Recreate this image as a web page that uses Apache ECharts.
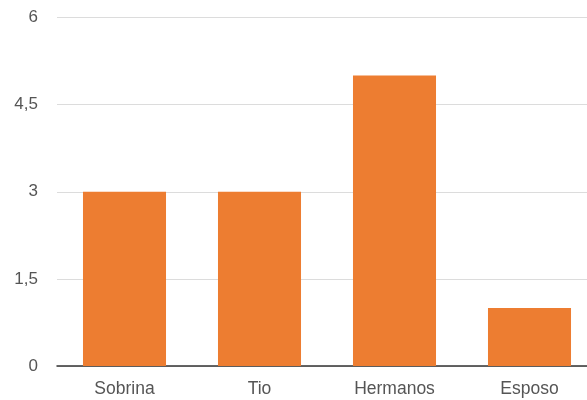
<!DOCTYPE html>
<html><head><meta charset="utf-8">
<script src="https://cdn.jsdelivr.net/npm/echarts@6/dist/echarts.min.js"></script>
<style>html,body{margin:0;padding:0;background:#fff;overflow:hidden;width:587px;height:400px}#c{width:597px;height:400px}</style>
</head><body><div id="c"></div>
<script>
const categories = ["Sobrina", "Tio", "Hermanos", "Esposo"];
const values = [3, 3, 5, 1];
const yTicks = [0, 1.5, 3, 4.5, 6];

const chart = echarts.init(document.getElementById('c'), null, {renderer: 'canvas'});
chart.setOption({
  animation: false,
  grid: {left: 57, top: 17.5, right: 0, bottom: 34, containLabel: false},
  xAxis: {
    type: 'category', data: categories,
    axisLine: {lineStyle: {color: '#333', width: 1.5}},
    axisTick: {show: false},
    axisLabel: {color: '#555', fontFamily: 'Liberation Sans, Arial', fontSize: 17.5, margin: 14}
  },
  yAxis: {
    type: 'value', min: yTicks[0], max: yTicks[yTicks.length-1], interval: 1.5,
    axisLine: {show: false}, axisTick: {show: false},
    splitLine: {lineStyle: {color: '#dcdcdc', width: 1}},
    axisLabel: {color: '#555', fontFamily: 'Liberation Sans, Arial', fontSize: 17, margin: 19,
      formatter: v => String(v).replace('.', ',')}
  },
  series: [{
    type: 'bar', data: values, barWidth: '61.5%',
    itemStyle: {color: '#ED7D31'}
  }]
});
</script></body></html>
